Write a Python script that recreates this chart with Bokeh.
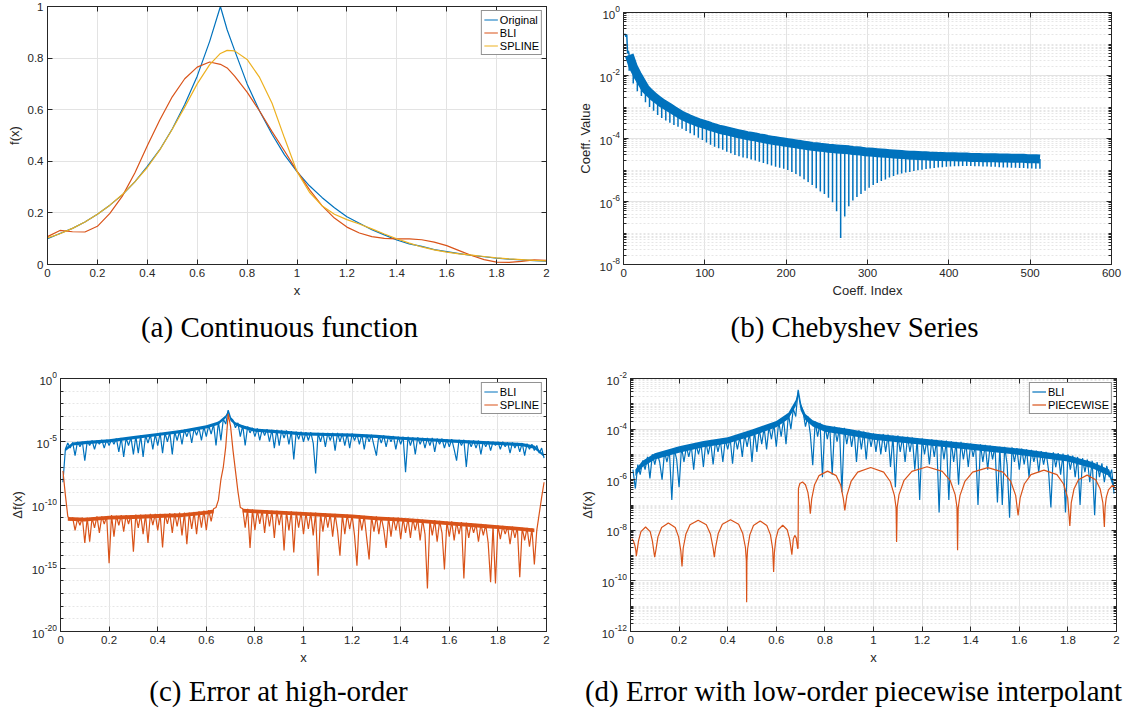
import numpy as np
from bokeh.plotting import figure
from bokeh.layouts import column, row
from bokeh.models import (Range1d, FixedTicker, LinearAxis, LogAxis, Legend, LegendItem,
                          CustomJSTickFormatter)
from bokeh.core.properties import value
from bokeh.embed import file_html
from bokeh.resources import INLINE

BLUE = "#0072BD"
ORANGE = "#D95319"
YELLOW = "#EDB120"
AXC = "#262626"
SANS = "Liberation Sans"
SERIF = "Liberation Serif"

# ---------------- (a) continuous function and its interpolants ----------------
x_a = [0, 0.05, 0.1, 0.15, 0.2, 0.25, 0.3, 0.35, 0.4, 0.45, 0.5, 0.55, 0.6, 0.65, 0.693,
       0.72, 0.75, 0.8, 0.85, 0.9, 0.95, 1.0, 1.05, 1.1, 1.15, 1.2, 1.25, 1.3, 1.35, 1.4,
       1.45, 1.5, 1.55, 1.6, 1.65, 1.7, 1.75, 1.8, 1.85, 1.9, 1.95, 2.0]
f_original = [0.10, 0.12, 0.14, 0.165, 0.195, 0.23, 0.27, 0.32, 0.38, 0.445, 0.525, 0.62,
              0.73, 0.865, 1.0, 0.91, 0.83, 0.70, 0.595, 0.505, 0.425, 0.36, 0.305, 0.26,
              0.22, 0.185, 0.16, 0.135, 0.115, 0.095, 0.08, 0.07, 0.058, 0.05, 0.042, 0.035,
              0.03, 0.025, 0.021, 0.018, 0.015, 0.013]
f_bli = [0.108, 0.132, 0.127, 0.126, 0.148, 0.198, 0.265, 0.355, 0.46, 0.56, 0.65, 0.72,
         0.765, 0.785, 0.776, 0.762, 0.73, 0.668, 0.595, 0.515, 0.44, 0.362, 0.29, 0.228,
         0.18, 0.145, 0.122, 0.108, 0.101, 0.099, 0.099, 0.096, 0.087, 0.073, 0.054, 0.035,
         0.019, 0.009, 0.008, 0.012, 0.018, 0.016]
f_spline = [0.103, 0.119, 0.14, 0.165, 0.195, 0.23, 0.271, 0.32, 0.376, 0.444, 0.524, 0.61,
            0.70, 0.775, 0.818, 0.83, 0.828, 0.795, 0.725, 0.625, 0.49, 0.36, 0.28, 0.228,
            0.195, 0.174, 0.157, 0.138, 0.118, 0.10, 0.083, 0.068, 0.057, 0.048, 0.041, 0.036,
            0.031, 0.026, 0.022, 0.019, 0.016, 0.014]

# ---------------- (b) Chebyshev coefficient magnitudes ----------------
cheb_head_idx = [1, 2, 3, 4, 5, 6, 7]
cheb_head = [0.19, 0.21, 0.17, 0.2, 0.05, 0.06, 0.045]
cheb_idx = np.arange(7, 513, 5)          # one dip every fifth coefficient
cheb_band_log = [
    -1.35, -1.72, -1.98, -2.2, -2.42, -2.55, -2.67, -2.77, -2.87, -2.95,
    -3.03, -3.11, -3.19, -3.27, -3.33, -3.39, -3.44, -3.49, -3.53, -3.57,
    -3.62, -3.66, -3.7, -3.73, -3.76, -3.79, -3.82, -3.85, -3.88, -3.91,
    -3.93, -3.95, -3.98, -4.0, -4.03, -4.05, -4.07, -4.09, -4.11, -4.13,
    -4.15, -4.17, -4.19, -4.21, -4.23, -4.25, -4.26, -4.28, -4.29, -4.31,
    -4.32, -4.33, -4.34, -4.35, -4.36, -4.38, -4.39, -4.4, -4.42, -4.43,
    -4.44, -4.45, -4.46, -4.47, -4.48, -4.49, -4.5, -4.51, -4.52, -4.53,
    -4.53, -4.54, -4.55, -4.55, -4.56, -4.56, -4.57, -4.57, -4.58, -4.58,
    -4.58, -4.59, -4.59, -4.59, -4.6, -4.6, -4.6, -4.61, -4.61, -4.61,
    -4.61, -4.62, -4.62, -4.62, -4.63, -4.63, -4.63, -4.63, -4.64, -4.64,
    -4.64, -4.65]
cheb_tip_log = [
    -1.85, -2.25, -2.5, -2.65, -2.85, -3.0, -3.12, -3.25, -3.35, -3.43,
    -3.5, -3.57, -3.63, -3.69, -3.76, -3.83, -3.9, -3.98, -4.05, -4.13,
    -4.2, -4.26, -4.31, -4.36, -4.42, -4.47, -4.52, -4.56, -4.6, -4.63,
    -4.67, -4.7, -4.74, -4.78, -4.82, -4.86, -4.9, -4.93, -4.96, -5.0,
    -5.06, -5.13, -5.2, -5.29, -5.38, -5.48, -5.58, -5.68, -5.76, -5.88,
    -6.02, -6.31, -7.16, -6.48, -6.15, -5.97, -5.86, -5.76, -5.66, -5.56,
    -5.48, -5.41, -5.35, -5.3, -5.24, -5.19, -5.14, -5.11, -5.08, -5.06,
    -5.03, -5.01, -4.99, -4.97, -4.95, -4.94, -4.92, -4.91, -4.9, -4.89,
    -4.88, -4.88, -4.87, -4.87, -4.87, -4.88, -4.88, -4.89, -4.89, -4.9,
    -4.9, -4.91, -4.92, -4.92, -4.93, -4.93, -4.94, -4.94, -4.95, -4.95,
    -4.96, -4.96]

# ---------------- (c) / (d) interpolation errors (log10) ----------------
x_err = np.round(np.arange(1, 200) * 0.01, 2)
err_c_bli_log = [
    -8.2, -5.6, -5.1, -5.5, -5.05, -6.1, -5.0, -5.4, -5.0, -6.5,
    -4.95, -5.3, -4.9, -5.6, -4.9, -5.2, -4.85, -5.5, -4.85, -5.3,
    -4.8, -5.2, -4.75, -5.8, -4.7, -6.2, -4.7, -5.3, -4.65, -6.0,
    -4.55, -5.9, -4.5, -6.2, -4.5, -5.1, -4.45, -5.6, -4.4, -5.3,
    -4.3, -5.9, -4.3, -5.0, -4.25, -6.0, -4.2, -4.9, -4.15, -5.2,
    -4.05, -4.6, -4.0, -5.1, -3.95, -4.5, -3.9, -4.9, -3.8, -4.6,
    -3.7, -4.4, -3.6, -5.3, -3.4, -4.9, -3.2, -3.6, -2.5, -3.1,
    -3.3, -3.9, -3.5, -4.6, -3.7, -5.3, -3.8, -4.3, -3.9, -4.6,
    -3.95, -4.9, -4.0, -4.5, -4.0, -5.0, -4.05, -5.5, -4.05, -5.3,
    -4.1, -4.7, -4.1, -5.2, -4.15, -6.4, -4.2, -4.8, -4.2, -5.0,
    -4.25, -4.9, -4.25, -5.1, -7.5, -4.3, -5.0, -4.3, -5.4, -4.3,
    -4.9, -4.3, -5.7, -4.3, -5.0, -4.35, -5.3, -4.35, -5.5, -4.35,
    -4.9, -4.4, -5.2, -4.4, -5.6, -4.45, -5.0, -4.45, -5.3, -6.1,
    -4.5, -5.1, -4.5, -5.4, -4.55, -5.0, -4.55, -5.6, -4.6, -5.2,
    -4.6, -7.4, -4.6, -5.3, -4.65, -6.0, -4.65, -5.2, -4.7, -5.5,
    -4.7, -5.3, -4.7, -5.8, -4.75, -5.2, -4.75, -5.5, -4.8, -5.4,
    -4.8, -5.6, -6.5, -4.85, -5.3, -4.85, -7.0, -4.9, -5.4, -4.9,
    -5.5, -4.9, -6.0, -4.95, -5.4, -4.95, -5.7, -5.0, -5.3, -5.0,
    -5.6, -5.0, -5.4, -5.05, -5.9, -5.05, -5.5, -5.1, -5.8, -5.1,
    -6.1, -5.15, -5.6, -5.2, -5.7, -5.3, -5.9, -5.5, -6.3]
err_c_spline_log = [
    -7.3, -9.2, -10.9, -11.2, -11.0, -12.0, -11.1, -11.6, -11.0, -13.0,
    -11.0, -12.9, -11.0, -11.8, -10.9, -12.2, -10.9, -11.5, -10.9, -14.6,
    -10.8, -12.5, -10.85, -11.6, -10.8, -12.1, -10.8, -11.5, -10.8, -13.7,
    -10.75, -11.8, -10.75, -12.3, -10.75, -13.0, -10.7, -11.6, -10.7, -12.0,
    -10.7, -13.35, -10.7, -11.5, -10.65, -12.2, -10.65, -11.7, -10.6, -12.4,
    -10.6, -13.1, -10.6, -11.9, -10.55, -12.3, -10.5, -11.8, -10.45, -12.0,
    -10.4, -11.3, -10.3, -10.2, -9.6, -8.0, -7.0, -5.4, -2.8, -3.8,
    -5.7, -7.3, -8.9, -10.2, -10.3, -11.8, -10.3, -13.4, -10.35, -12.0,
    -10.4, -11.5, -10.4, -12.2, -10.4, -11.7, -10.45, -12.6, -10.45, -11.6,
    -10.5, -13.6, -10.5, -12.0, -10.5, -13.75, -10.55, -11.8, -10.55, -12.3,
    -10.6, -11.9, -10.6, -12.4, -10.6, -15.6, -10.65, -12.1, -10.65, -11.8,
    -10.7, -12.5, -10.7, -12.0, -14.0, -10.75, -12.3, -10.75, -11.9, -10.8,
    -12.4, -14.8, -10.8, -12.0, -10.85, -12.6, -14.3, -10.9, -12.1, -10.9,
    -12.3, -10.95, -11.9, -13.4, -10.95, -12.5, -11.0, -12.0, -11.0, -12.7,
    -11.05, -12.2, -11.05, -12.6, -11.1, -12.0, -11.1, -12.8, -11.15, -12.3,
    -16.6, -11.2, -12.4, -11.2, -12.9, -11.25, -12.2, -15.1, -11.3, -12.5,
    -11.3, -12.8, -11.35, -12.3, -11.35, -15.8, -11.4, -12.6, -11.45, -12.2,
    -11.5, -12.9, -11.5, -12.4, -11.55, -13.0, -16.1, -11.6, -16.2, -11.6,
    -12.7, -11.65, -12.3, -11.7, -13.1, -11.7, -12.6, -11.75, -15.7, -11.8,
    -12.8, -11.8, -13.3, -11.85, -14.7, -12.0, -10.7, -9.4, -8.2]
err_d_bli_log = [
    -5.6, -6.35, -5.4, -5.8, -5.25, -5.6, -5.1, -5.95, -5.0, -5.4,
    -4.95, -5.3, -6.0, -4.9, -5.3, -4.85, -6.8, -4.8, -5.2, -6.3,
    -4.7, -5.3, -4.7, -5.1, -4.65, -5.6, -4.6, -5.0, -4.55, -5.5,
    -4.5, -5.0, -4.5, -5.4, -4.45, -4.9, -4.45, -5.3, -4.4, -4.8,
    -4.35, -5.37, -4.3, -4.8, -4.3, -5.1, -4.2, -4.7, -4.15, -5.3,
    -4.05, -4.9, -4.0, -4.6, -3.95, -4.8, -3.9, -4.4, -3.8, -4.7,
    -3.7, -4.3, -3.6, -4.6, -3.4, -4.0, -3.2, -3.5, -2.45, -3.0,
    -3.3, -3.9, -3.5, -4.2, -5.43, -3.7, -4.3, -3.75, -5.9, -3.85,
    -4.4, -3.9, -5.8, -3.9, -4.5, -3.95, -6.5, -3.95, -4.6, -4.0,
    -4.7, -4.05, -5.3, -4.05, -4.8, -4.1, -5.2, -4.15, -4.7, -4.17,
    -4.9, -4.2, -5.0, -4.2, -4.9, -4.22, -5.5, -4.25, -6.3, -4.25,
    -4.9, -4.3, -5.3, -4.3, -4.9, -4.33, -5.6, -4.35, -6.8, -4.37,
    -5.0, -4.4, -5.4, -4.4, -5.1, -4.42, -7.3, -4.45, -5.2, -4.45,
    -6.8, -4.48, -5.3, -4.5, -6.2, -4.5, -5.2, -4.55, -5.5, -4.57,
    -5.1, -4.6, -7.0, -4.6, -5.3, -4.62, -5.6, -4.65, -5.2, -4.67,
    -6.9, -4.7, -7.0, -4.7, -5.4, -7.5, -4.72, -5.3, -4.75, -5.6,
    -4.77, -5.4, -4.8, -5.9, -4.82, -5.3, -4.85, -5.7, -4.87, -5.4,
    -4.9, -5.6, -7.1, -4.92, -5.5, -4.95, -5.8, -4.97, -7.3, -5.0,
    -5.6, -5.05, -5.9, -5.1, -7.0, -5.15, -5.7, -5.2, -6.1, -5.25,
    -7.4, -5.3, -5.9, -5.35, -6.1, -5.45, -5.9, -5.6, -6.55]

# dense core of each noisy error curve: upper and lower edge (log10) at a few x positions
c_bli_core_x = [0.02, 0.05, 0.1, 0.2, 0.3, 0.4, 0.5, 0.6, 0.65, 0.68, 0.69, 0.70, 0.72,
                0.75, 0.8, 0.9, 1.0, 1.1, 1.2, 1.3, 1.4, 1.5, 1.6, 1.7, 1.8, 1.9, 1.95, 1.99]
c_bli_core_hi = [-5.5, -5.05, -4.95, -4.8, -4.55, -4.3, -4.05, -3.7, -3.4, -2.9, -2.5, -3.1,
                 -3.45, -3.7, -3.95, -4.1, -4.25, -4.3, -4.35, -4.45, -4.6, -4.7, -4.8, -4.9,
                 -5.0, -5.1, -5.3, -6.0]
c_bli_core_lo = [-5.75, -5.3, -5.2, -5.05, -4.8, -4.55, -4.3, -3.95, -3.65, -3.15, -2.75, -3.35,
                 -3.7, -3.95, -4.2, -4.35, -4.5, -4.55, -4.6, -4.7, -4.85, -4.95, -5.05, -5.15,
                 -5.25, -5.35, -5.55, -6.2]
c_spl_core_left_x = [0.03, 0.1, 0.2, 0.3, 0.4, 0.5, 0.6, 0.63]
c_spl_core_left_hi = [-10.95, -11.0, -10.85, -10.8, -10.72, -10.65, -10.45, -10.35]
c_spl_core_left_lo = [-11.25, -11.3, -11.15, -11.1, -11.02, -10.95, -10.75, -10.65]
c_spl_core_right_x = [0.75, 0.8, 0.9, 1.0, 1.1, 1.2, 1.3, 1.4, 1.5, 1.6, 1.7, 1.8, 1.9, 1.95]
c_spl_core_right_hi = [-10.3, -10.35, -10.45, -10.55, -10.65, -10.75, -10.9, -11.0, -11.15,
                       -11.3, -11.45, -11.6, -11.75, -11.85]
c_spl_core_right_lo = [-10.6, -10.65, -10.75, -10.85, -10.95, -11.05, -11.2, -11.3, -11.45,
                       -11.6, -11.75, -11.9, -12.05, -12.15]
d_bli_core_x = [0.02, 0.05, 0.1, 0.2, 0.3, 0.4, 0.5, 0.6, 0.65, 0.68, 0.69, 0.70, 0.72, 0.75,
                0.8, 0.9, 1.0, 1.2, 1.4, 1.6, 1.8, 1.9, 1.97, 1.99]
d_bli_core_hi = [-5.6, -5.25, -4.95, -4.68, -4.47, -4.32, -4.02, -3.68, -3.35, -2.85, -2.45,
                 -3.0, -3.4, -3.65, -3.85, -4.0, -4.17, -4.37, -4.57, -4.77, -5.03, -5.3, -5.6,
                 -6.2]
d_bli_core_lo = [-5.85, -5.5, -5.2, -4.93, -4.72, -4.57, -4.27, -3.93, -3.6, -3.1, -2.7,
                 -3.25, -3.65, -3.9, -4.1, -4.25, -4.42, -4.62, -4.82, -5.02, -5.28, -5.55, -5.85,
                 -6.4]

pw_x = [0.005, 0.012, 0.018, 0.022, 0.024,
        0.033, 0.043, 0.062, 0.081, 0.090, 0.0995,
        0.104, 0.113, 0.128, 0.156, 0.184, 0.198, 0.207, 0.212,
        0.217, 0.228, 0.245, 0.2785, 0.312, 0.329, 0.340, 0.345,
        0.350, 0.361, 0.378, 0.4115, 0.445, 0.462, 0.473, 0.4767, 0.478,
        0.479, 0.482, 0.491, 0.506, 0.5335, 0.561, 0.576, 0.585, 0.589,
        0.592, 0.598, 0.608, 0.6265, 0.645, 0.655, 0.664,
        0.670, 0.676, 0.682, 0.688, 0.6895, 0.691,
        0.697, 0.708, 0.72, 0.73, 0.736, 0.74,
        0.7457, 0.757, 0.7755, 0.811, 0.8465, 0.865, 0.876, 0.882,
        0.8905, 0.9076, 0.935, 0.9885, 1.042, 1.069, 1.086, 1.093, 1.095,
        1.0975, 1.105, 1.125, 1.158, 1.2205, 1.283, 1.316, 1.336, 1.3435, 1.346,
        1.3485, 1.356, 1.376, 1.408, 1.4705, 1.533, 1.565, 1.585, 1.595,
        1.6035, 1.6206, 1.648, 1.7015, 1.755, 1.782, 1.799, 1.808,
        1.8137, 1.825, 1.8435, 1.879, 1.9145, 1.933, 1.944, 1.95,
        1.953, 1.958, 1.967, 1.983, 1.997]
pw_log = [-8.33, -8.42, -8.6, -8.8, -9.02,
          -8.42, -8.05, -7.87, -8.05, -8.42, -9.06,
          -8.81, -8.26, -7.89, -7.71, -7.89, -8.26, -8.81, -9.43,
          -8.7, -8.15, -7.78, -7.6, -7.78, -8.15, -8.7, -9.06,
          -8.68, -8.13, -7.76, -7.58, -7.76, -8.13, -8.68, -9.2, -10.84,
          -9.23, -8.73, -8.18, -7.81, -7.63, -7.81, -8.18, -8.73, -9.65,
          -8.9, -8.35, -7.98, -7.8, -7.98, -8.35, -8.96,
          -8.35, -8.2, -8.3, -8.73, -8.7, -6.35,
          -6.15, -6.09, -6.2, -6.5, -6.9, -7.34,
          -6.76, -6.21, -5.84, -5.66, -5.84, -6.21, -6.76, -7.21,
          -6.62, -6.07, -5.7, -5.52, -5.7, -6.07, -6.62, -7.12, -8.46,
          -7.09, -6.59, -6.04, -5.67, -5.49, -5.67, -6.04, -6.59, -7.09, -8.79,
          -7.12, -6.62, -6.07, -5.7, -5.52, -5.7, -6.07, -6.62, -7.41,
          -6.72, -6.17, -5.8, -5.62, -5.8, -6.17, -6.72, -7.83,
          -6.92, -6.37, -6.0, -5.82, -6.0, -6.37, -6.92, -7.87,
          -7.1, -6.7, -6.4, -6.22, -6.35]

captions = ["(a) Continuous function", "(b) Chebyshev Series",
            "(c) Error at high-order", "(d) Error with low-order piecewise interpolant"]

for name, arr, n in [("cheb_band", cheb_band_log, len(cheb_idx)), ("cheb_tip", cheb_tip_log, len(cheb_idx)),
                     ("c_bli", err_c_bli_log, len(x_err)), ("c_spl", err_c_spline_log, len(x_err)),
                     ("d_bli", err_d_bli_log, len(x_err)), ("pw", pw_log, len(pw_x))]:
    if len(arr) != n:
        raise ValueError(f"{name}: {len(arr)} != {n}")


def pow10(a):
    return 10.0 ** np.asarray(a, dtype=float)


# ---------------- shared styling ----------------
DEC_FMT = CustomJSTickFormatter(code="return String(Math.round(tick * 10) / 10);")
BLANK_FMT = CustomJSTickFormatter(code="return '';")
EXP_CHAR_W = {"-": 2.9, "0": 4.8, "1": 4.8, "2": 4.8, "3": 4.8, "4": 4.8,
              "5": 4.8, "6": 4.8, "7": 4.8, "8": 4.8, "9": 4.8}


def unaligned(f):
    """Keep this plot's frame where its own borders put it, independent of its neighbours."""
    if "frame_align" in f.properties():
        f.frame_align = False
    return column(f, spacing=0)


def style_axis(ax, tick_font="11.5px"):
    ax.axis_line_color = AXC
    ax.major_tick_line_color = AXC
    ax.minor_tick_line_color = AXC
    ax.major_tick_in = 5
    ax.major_tick_out = 0
    ax.minor_tick_in = 3
    ax.minor_tick_out = 0
    ax.major_label_text_font = SANS
    ax.major_label_text_font_size = tick_font
    ax.major_label_text_color = AXC
    ax.axis_label_text_font = SANS
    ax.axis_label_text_font_size = "13px"
    ax.axis_label_text_font_style = "normal"
    ax.axis_label_text_color = AXC


def bare_figure(width, height, xr, yr, log_y=False, borders=(0, 0, 0, 0)):
    bl, br, bt, bb = borders
    f = figure(width=width, height=height, x_range=Range1d(*xr), y_range=Range1d(*yr),
               y_axis_type="log" if log_y else "linear", x_axis_location=None,
               y_axis_location=None, output_backend="svg", toolbar_location=None,
               min_border_left=bl, min_border_right=br, min_border_top=bt, min_border_bottom=bb)
    f.outline_line_color = None
    f.background_fill_color = "white"
    f.border_fill_color = "white"
    f.grid.visible = False
    return f


def make_panel(width, height, xr, yr, log_y, borders, xticks, yticks, yminor, xlabel, ylabel=None):
    bl, br, bt, bb = borders
    p = figure(width=width, height=height, x_range=Range1d(*xr), y_range=Range1d(*yr),
               y_axis_type="log" if log_y else "linear", output_backend="svg",
               toolbar_location=None, min_border_left=bl, min_border_right=br,
               min_border_top=bt, min_border_bottom=bb)
    p.background_fill_color = "white"
    p.border_fill_color = "white"
    p.outline_line_color = AXC
    p.outline_line_width = 1

    xt = FixedTicker(ticks=xticks)
    yt = FixedTicker(ticks=yticks, minor_ticks=yminor)
    p.xaxis.ticker = xt
    p.xgrid.ticker = xt
    p.yaxis.ticker = yt
    p.ygrid.ticker = yt
    p.xaxis.formatter = DEC_FMT
    style_axis(p.xaxis[0])
    style_axis(p.yaxis[0])
    p.xaxis.major_label_standoff = 4
    p.xaxis.axis_label_standoff = 3
    p.xaxis.axis_label = xlabel
    if log_y:
        # powers of ten are written by a companion label strip
        p.yaxis.formatter = BLANK_FMT
        p.yaxis.major_label_standoff = 0
        p.yaxis.major_label_text_font_size = "1px"
    else:
        p.yaxis.formatter = DEC_FMT
        p.yaxis.major_label_standoff = 4
        p.yaxis.axis_label_standoff = 3
        p.yaxis.axis_label = ylabel

    p.grid.grid_line_color = "#e3e3e3"
    p.grid.grid_line_width = 1
    if log_y:
        p.ygrid.minor_grid_line_color = "#e6e6e6"
        p.ygrid.minor_grid_line_dash = "2 2"

    # mirrored tick marks on the top and right edges
    top = LinearAxis(ticker=xt, formatter=BLANK_FMT)
    right = (LogAxis if log_y else LinearAxis)(ticker=yt, formatter=BLANK_FMT)
    for ax in (top, right):
        style_axis(ax, "1px")
        ax.major_label_standoff = 0
    p.add_layout(top, "above")
    p.add_layout(right, "right")
    return p


def power_label_strip(width, height, b_top, b_bottom, yr, ticks, ylabel, ylabel_x, ext=10):
    """Narrow strip left of a log panel: 10 with raised exponents, and the axis title."""
    frame_h = height - b_top - b_bottom
    lo, hi = np.log10(yr[0]), np.log10(yr[1])
    per_px = (hi - lo) / frame_h
    f = bare_figure(width, height, (0, width),
                    (10 ** (lo - ext * per_px), 10 ** (hi + ext * per_px)), log_y=True,
                    borders=(0, 0, b_top - ext, b_bottom - ext))
    exps = [str(int(round(np.log10(t)))) for t in ticks]
    exp_w = [sum(EXP_CHAR_W[c] for c in e) for e in exps]
    right_edge = width - 0.5
    f.text(x=[right_edge] * len(ticks), y=ticks, text=exps, text_align="right",
           text_baseline="middle", y_offset=-3.5, text_font=value(SANS),
           text_font_size=value("8.5px"), text_color=AXC)
    f.text(x=[right_edge - w for w in exp_w], y=ticks, text=["10"] * len(ticks),
           text_align="right", text_baseline="middle", y_offset=2, text_font=value(SANS),
           text_font_size=value("11.5px"), text_color=AXC)
    f.text(x=[ylabel_x], y=[10 ** ((lo + hi) / 2)], text=[ylabel], angle=np.pi / 2,
           text_align="center", text_baseline="middle", text_font=value(SANS),
           text_font_size=value("13px"), text_color=AXC)
    return unaligned(f)


def caption_strip(text, height, cx, cy):
    f = bare_figure(562, height, (0, 562), (0, height))
    f.text(x=[cx], y=[cy], text=[text], text_align="center", text_baseline="middle",
           text_font=value(SERIF), text_font_size=value("29px"), text_color="black")
    return f


def add_legend(p, items):
    lg = Legend(items=[LegendItem(label=lab, renderers=[r]) for lab, r in items],
                location="top_right")
    lg.margin = 4
    lg.padding = 2
    lg.spacing = 0
    lg.glyph_width = 14
    lg.glyph_height = 13
    lg.label_height = 13
    lg.label_standoff = 2
    lg.label_text_font = SANS
    lg.label_text_font_size = "11px"
    lg.label_text_color = "black"
    lg.border_line_color = AXC
    lg.border_line_width = 1
    lg.background_fill_alpha = 1
    p.add_layout(lg)


lin_x = [0, 0.2, 0.4, 0.6, 0.8, 1, 1.2, 1.4, 1.6, 1.8, 2]
TOP_H, BOT_H = 304, 311

# (a)
pa = make_panel(562, TOP_H, (0, 2), (0, 1), False, (47, 16, 6, 40),
                lin_x, [0, 0.2, 0.4, 0.6, 0.8, 1], [], "x", "f(x)")
ra1 = pa.line(x_a, f_original, line_color=BLUE, line_width=1.2)
ra2 = pa.line(x_a, f_bli, line_color=ORANGE, line_width=1.2)
ra3 = pa.line(x_a, f_spline, line_color=YELLOW, line_width=1.2)
add_legend(pa, [("Original", ra1), ("BLI", ra2), ("SPLINE", ra3)])

# (b)
b_major = [10.0 ** e for e in range(-8, 1, 2)]
b_minor = [m * 10.0 ** e for e in range(-8, 0) for m in range(1, 10) if not (m == 1 and e % 2 == 0)]
lb = power_label_strip(58, TOP_H, 12, 40, (1e-8, 1), b_major, "Coeff. Value", 23)
pb = make_panel(504, TOP_H, (0, 600), (1e-8, 1), True, (3, 13, 12, 40),
                [0, 100, 200, 300, 400, 500, 600], b_major, b_minor, "Coeff. Index")
pb.line(cheb_head_idx, cheb_head, line_color=BLUE, line_width=1.5)
pb.line(cheb_idx, pow10(cheb_band_log), line_color=BLUE, line_width=9, line_join="round")
pb.segment(x0=cheb_idx, y0=pow10(cheb_band_log), x1=cheb_idx,
           y1=pow10(cheb_tip_log), line_color=BLUE, line_width=1.5)

# (c)
c_major = [10.0 ** e for e in range(-20, 1, 5)]
c_minor = [10.0 ** e for e in range(-19, 0) if e % 5 != 0]
lc = power_label_strip(57, BOT_H, 18, 40, (1e-20, 1), c_major, "\u0394f(x)", 16.5)
pc = make_panel(505, BOT_H, (0, 2), (1e-20, 1), True, (3, 16, 18, 40),
                lin_x, c_major, c_minor, "x")
pc.varea(x=c_bli_core_x, y1=pow10(c_bli_core_lo), y2=pow10(c_bli_core_hi), fill_color=BLUE)
rc1 = pc.line(x_err, pow10(err_c_bli_log), line_color=BLUE, line_width=1.2)
pc.varea(x=c_spl_core_left_x, y1=pow10(c_spl_core_left_lo), y2=pow10(c_spl_core_left_hi),
         fill_color=ORANGE)
pc.varea(x=c_spl_core_right_x, y1=pow10(c_spl_core_right_lo), y2=pow10(c_spl_core_right_hi),
         fill_color=ORANGE)
rc2 = pc.line(x_err, pow10(err_c_spline_log), line_color=ORANGE, line_width=1.2)
add_legend(pc, [("BLI", rc1), ("SPLINE", rc2)])

# (d)
d_major = [10.0 ** e for e in range(-12, -1, 2)]
d_minor = [m * 10.0 ** e for e in range(-12, -2) for m in range(1, 10) if not (m == 1 and e % 2 == 0)]
ld = power_label_strip(65, BOT_H, 18, 40, (1e-12, 1e-2), d_major, "\u0394f(x)", 25)
p_d = make_panel(497, BOT_H, (0, 2), (1e-12, 1e-2), True, (3, 8, 18, 40),
                 lin_x, d_major, d_minor, "x")
p_d.varea(x=d_bli_core_x, y1=pow10(d_bli_core_lo), y2=pow10(d_bli_core_hi), fill_color=BLUE)
rd1 = p_d.line(x_err, pow10(err_d_bli_log), line_color=BLUE, line_width=1.2)
rd2 = p_d.line(pw_x, pow10(pw_log), line_color=ORANGE, line_width=1.2)
add_legend(p_d, [("BLI", rd1), ("PIECEWISE", rd2)])

cap_a = caption_strip(captions[0], 56, 279, 34)
cap_b = caption_strip(captions[1], 56, 292, 34)
cap_c = caption_strip(captions[2], 42, 278, 23)
cap_d = caption_strip(captions[3], 42, 291, 23)

layout = column(row(unaligned(pa), lb, pb, spacing=0),
                row(cap_a, cap_b, spacing=0),
                row(lc, pc, ld, p_d, spacing=0),
                row(cap_c, cap_d, spacing=0),
                spacing=0)

with open("out.html", "w", encoding="utf-8") as fh:
    fh.write(file_html(layout, INLINE, title="Interpolation comparison"))
